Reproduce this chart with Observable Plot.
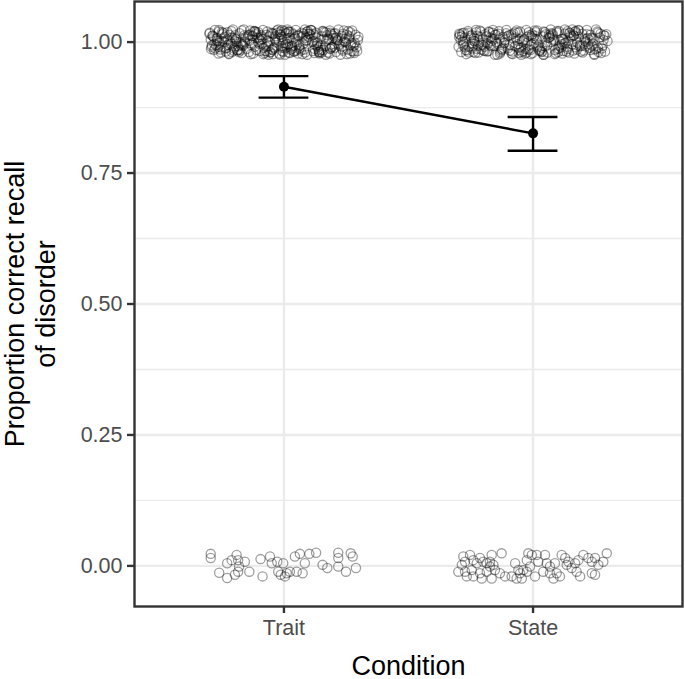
<!DOCTYPE html>
<html><head><meta charset="utf-8">
<script src="https://cdn.jsdelivr.net/npm/d3@7"></script>
<script src="https://cdn.jsdelivr.net/npm/@observablehq/plot@0.6"></script>
<style>html,body{margin:0;padding:0;background:#fff}svg{display:block}</style>
</head><body><div id="chart"></div>
<script>
// ---- data ----
const conditions = ["Trait", "State"];
const means = [0.9147, 0.8258];
const errLow = [0.894, 0.7925];
const errHigh = [0.935, 0.857];
const yTicks = [0, 0.25, 0.5, 0.75, 1];
const yMinorTicks = [0.125, 0.375, 0.625, 0.875];
const xTitle = "Condition";
const yTitle = ["Proportion correct recall", "of disorder"];

// jittered raw responses: [x jitter, y jitter] in thousandths (value 1 clusters)
const traitOnes = [
[-287,12],[143,-19],[-35,4],[258,21],[-164,-7],[78,16],[-221,-22],[9,-3],[196,8],[-112,19],[-256,-14],[117,2],[-69,-18],[231,-9],[47,23],[-193,6],[168,-24],[-138,14],[284,-1],[-8,-11],
[-272,-6],[93,20],[-46,-15],[213,3],[-178,17],[24,-21],[151,11],[-239,0],[272,-17],[-101,9],[61,-8],[-205,24],[186,-13],[-17,15],[-127,-2],[247,7],[-83,-23],[129,18],[-294,5],[3,-12],
[-249,19],[52,-5],[-153,10],[177,-20],[-28,22],[291,-10],[-216,1],[106,13],[-62,-24],[238,16],[-117,-9],[14,7],[-186,-16],[158,21],[-279,-3],[81,-14],[-94,3],[219,24],[-3,-19],[135,-1],
[-230,-11],[176,6],[-52,18],[265,-22],[-143,13],[33,-7],[-261,23],[203,-4],[-76,-17],[99,10],[-197,2],[124,-13],[-14,20],[279,-18],[-107,8],[58,14],[-170,-21],[243,0],[-291,-9],[12,17],
[-266,2],[68,-16],[-121,21],[221,-6],[-39,-12],[161,19],[-208,9],[4,-24],[253,14],[-88,-3],[111,22],[-181,-19],[38,6],[-248,15],[192,-10],[-59,11],[141,-20],[-156,-1],[297,4],[-23,24],
[-233,-18],[87,8],[-11,-8],[206,17],[-133,-23],[49,1],[-283,10],[149,-15],[-67,20],[268,-5],[-196,13],[19,-20],[-98,5],[233,-13],[-169,22],[121,-4],[-43,16],[183,-22],[-253,-10],[76,11],
[-298,18],[133,-2],[-78,-21],[198,12],[-149,-13],[21,20],[-224,-5],[261,7],[-6,-17],[107,23],[-183,-8],[64,-11],[-114,15],[171,3],[-263,-22],[44,9],[-31,-1],[287,14],[-203,-16],[93,-24],
[-241,7],[209,-19],[-92,13],[28,-14],[-161,24],[147,-7],[-276,-12],[71,18],[-21,2],[252,-23],[-128,11],[181,5],[-56,-20],[103,16],[-213,-3],[1,21],[-187,-15],[277,-8],[-104,0],[39,-18],
[-258,-1],[119,15],[-71,-9],[241,22],[-137,3],[56,-22],[-227,19],[186,-12],[-9,10],[294,-17],[-173,-6],[84,24],[-48,-14],[158,6],[-286,12],[16,-4],[-118,20],[227,-24],[-199,9],[137,-10],
[-219,14],[42,-18],[-167,-4],[262,11],[-84,23],[138,-14],[-247,1],[7,17],[-124,-22],[194,-9],[-36,7],[96,21],[-293,-13],[216,4],[-62,-7],[169,19],[-209,-19],[59,12],[-3,-2],[282,-21],
[-277,23],[166,-8],[-13,14],[74,-23],[-146,6],[236,-16],[-99,-3],[29,19],[-234,-12],[127,9],[-54,-19],[201,16],[-189,0],[11,-10],[-268,8],[274,22],[-111,-15],[89,3],[-27,18],[152,-20],
[-252,-20],[94,4],[-40,-10],[187,18],[-176,-16],[54,12],[-211,21],[249,-1],[-89,10],[143,-22],[-8,23],[-131,-5],[207,7],[-299,16],[34,-12],[-65,2],[116,-17],[-158,13],[283,-6],[18,20],
[-238,10],[61,-13],[-103,19],[224,-3],[-19,-22],[173,13],[-264,-9],[113,0],[-47,17],[256,-14],[-192,5],[6,-6],[-136,22],[141,-18],[-81,-11],[211,9],[-221,-23],[37,15],[-157,1],[299,10],
[-281,-15],[154,21],[-58,0],[85,-20],[-126,12],[243,2],[-201,-12],[22,8],[-16,-24],[191,15],[-243,18],[131,-7],[-97,-17],[266,19],[-172,-2],[47,-16],[-33,11],[204,-11],[-269,3],[109,23],
[-226,5],[77,-3],[-141,-19],[184,22],[-71,14],[31,-9],[-289,-6],[232,12],[-116,21],[159,-15],[-5,3],[-195,-8],[99,16],[-44,-23],[271,-2],[-261,20],[122,-21],[-86,6],[14,24],[-180,-14]
];
const stateOnes = [
[-274,9],[121,-17],[-52,20],[236,-6],[-187,3],[64,14],[-232,-21],[18,-9],[182,23],[-116,-2],[-296,16],[99,-13],[-79,7],[263,-19],[39,11],[-153,-24],[212,1],[-11,-15],[146,18],[-207,-5],
[-246,-12],[83,5],[-26,-20],[198,16],[-168,-8],[7,22],[-281,1],[161,-16],[-97,13],[283,4],[-133,-22],[48,19],[-61,-4],[227,-11],[-213,10],[131,-1],[-4,15],[-184,-18],[253,24],[107,-7],
[-259,17],[29,-14],[-144,-3],[171,21],[-69,9],[246,-23],[-223,12],[113,-10],[-38,3],[294,15],[-199,-16],[71,0],[-107,23],[188,-8],[-288,-19],[13,6],[-162,18],[139,-13],[-47,-24],[219,8],
[-237,2],[151,13],[-83,-18],[57,-6],[-178,20],[276,-12],[-7,11],[-256,-9],[96,21],[-124,-14],[209,6],[-31,-22],[174,17],[-216,-1],[36,-19],[-297,10],[128,24],[-58,-11],[241,-3],[-149,14],
[-268,-23],[68,11],[-113,4],[231,-15],[-17,19],[157,-4],[-194,-17],[288,12],[-72,-8],[16,22],[-236,7],[199,-20],[-139,16],[104,-12],[-43,1],[261,18],[-281,-6],[43,-24],[-171,9],[123,3],
[-229,19],[91,-21],[-1,8],[178,-1],[-126,-13],[258,20],[-203,5],[27,-17],[-88,14],[141,2],[-273,-10],[216,23],[-54,-15],[73,17],[-158,-7],[289,-18],[-24,10],[-246,13],[166,-22],[114,6],
[-291,4],[137,-9],[-66,22],[204,-16],[-147,0],[52,15],[-219,-20],[268,9],[-14,-12],[98,18],[-183,-3],[246,-24],[-102,11],[23,-6],[-261,21],[176,-14],[-36,5],[-131,-19],[71,24],[-243,-8],
[-252,12],[188,-5],[-93,-16],[43,20],[-164,7],[117,-22],[-284,17],[3,-2],[231,14],[-121,-11],[82,3],[-27,23],[-208,-14],[155,10],[-57,-21],[279,-7],[-176,19],[34,-18],[-234,1],[128,16],
[-265,-16],[62,8],[-137,21],[221,-4],[-9,-23],[163,12],[-196,-9],[101,-19],[-79,16],[299,2],[-226,-13],[12,19],[-116,-1],[183,22],[-48,-10],[242,7],[-294,14],[88,-15],[-159,5],[144,-20],
[-214,22],[36,-11],[-172,-6],[271,16],[-63,3],[134,-18],[-249,9],[-2,-21],[211,-8],[-108,17],[78,13],[-39,-17],[-278,-3],[169,20],[-143,-24],[54,0],[253,-13],[-188,11],[119,6],[-19,-14],
[-243,-2],[104,21],[-31,-13],[192,-18],[-153,14],[16,4],[-271,-15],[236,8],[-86,-22],[147,17],[-201,-6],[59,-20],[-121,10],[284,13],[-6,-4],[-229,23],[172,-10],[-61,18],[87,-23],[-166,2],
[-286,11],[126,-3],[-46,-19],[216,15],[-134,7],[27,-16],[-209,20],[261,-11],[-94,-5],[158,24],[-257,-20],[66,9],[-14,13],[196,-7],[-179,-17],[109,1],[-72,19],[-299,-9],[41,-24],[228,4],
[-221,-7],[79,16],[-161,23],[249,-14],[-23,-1],[184,10],[-239,-19],[7,12],[-101,-12],[139,21],[-53,6],[273,-21],[-191,15],[48,-8],[-128,-16],[206,3],[-278,18],[116,-4],[-82,-23],[163,13]
];
// value 0 clusters: [x jitter, y] in thousandths
const traitZeros = [
[-294,23],[-294,15],[-228,5],[-210,11],[-190,21],[-184,11],[-180,-1],[-184,-11],[-157,8],[-139,-11],
[-260,-13],[-228,-23],[-197,-17],[-94,13],[-56,18],[-49,5],[-27,8],[-3,5],[-86,-20],[-23,-11],
[-13,-17],[11,-14],[4,-20],[24,-11],[44,18],[64,23],[51,-11],[75,-14],[84,5],[102,23],
[129,25],[155,2],[174,-4],[218,25],[218,15],[218,-1],[249,-11],[268,24],[276,18],[289,-4]
];
const stateZeros = [
[-280,18],[-253,21],[-273,8],[-286,2],[-240,11],[-226,5],[-213,15],[-200,8],[-186,5],[-173,8],
[-166,21],[-126,24],[-159,2],[-173,-1],[-300,-11],[-273,-11],[-246,-8],[-266,-20],[-240,-20],[-213,-14],
[-186,-11],[-153,-8],[-133,-14],[-206,-24],[-166,-24],[-112,-20],[-86,-20],[-72,5],[-59,-8],[-52,-14],
[-39,-8],[-45,-24],[-66,-24],[-25,-11],[-19,24],[-5,21],[15,21],[21,8],[-25,11],[-12,-1],
[8,-20],[48,21],[55,5],[68,-1],[88,5],[41,-11],[68,-14],[95,-14],[108,-20],[82,-24],
[115,21],[129,15],[142,8],[135,2],[155,-4],[169,5],[175,-11],[189,-20],[202,21],[222,15],
[236,8],[249,15],[262,2],[282,8],[296,24],[236,-14],[249,-17],[182,11]
];

// ---- build tables ----
const points = [];
[[traitOnes, traitZeros], [stateOnes, stateZeros]].forEach(([ones, zeros], i) => {
  ones.forEach(([dx, dy]) => points.push({x: i + 1 + dx / 1000, y: 1 + dy / 1000}));
  zeros.forEach(([dx, dy]) => points.push({x: i + 1 + dx / 1000, y: dy / 1000}));
});
const summary = conditions.map((c, i) => ({x: i + 1, mean: means[i], lo: errLow[i], hi: errHigh[i]}));
const capHalf = 0.1;

const font = "'Liberation Sans', Arial, Helvetica, sans-serif";
const chart = Plot.plot({
  width: 685, height: 679,
  marginLeft: 134, marginRight: 3, marginTop: 1, marginBottom: 73,
  style: {fontFamily: font, background: "#ffffff", overflow: "visible"},
  x: {type: "linear", domain: [0.4, 2.6], axis: null},
  y: {type: "linear", domain: [-0.0775, 1.0775], axis: null},
  marks: [
    Plot.gridY(yMinorTicks, {stroke: "#ebebeb", strokeOpacity: 1, strokeWidth: 1.3}),
    Plot.gridY(yTicks, {stroke: "#ebebeb", strokeOpacity: 1, strokeWidth: 2.4}),
    Plot.gridX([1, 2], {stroke: "#ebebeb", strokeOpacity: 1, strokeWidth: 2.4}),
    Plot.dot(points, {x: "x", y: "y", r: 4.6, fill: "none", stroke: "#000", strokeOpacity: 0.38, strokeWidth: 1.3}),
    Plot.line(summary, {x: "x", y: "mean", stroke: "#000", strokeWidth: 2.4}),
    Plot.ruleX(summary, {x: "x", y1: "lo", y2: "hi", stroke: "#000", strokeWidth: 2.4}),
    Plot.ruleY(summary, {x1: d => d.x - capHalf, x2: d => d.x + capHalf, y: "lo", stroke: "#000", strokeWidth: 2.4}),
    Plot.ruleY(summary, {x1: d => d.x - capHalf, x2: d => d.x + capHalf, y: "hi", stroke: "#000", strokeWidth: 2.4}),
    Plot.dot(summary, {x: "x", y: "mean", r: 5, fill: "#000", stroke: "none"}),
    Plot.frame({stroke: "#333333", strokeWidth: 2.4}),
    Plot.axisY(yTicks, {anchor: "left", tickSize: 7, tickPadding: 5, tickFormat: d3.format(".2f"),
      fontSize: 21.5, stroke: "#333333", strokeWidth: 2.4, fill: "#4d4d4d", label: null}),
    Plot.axisX([1, 2], {anchor: "bottom", tickSize: 7, tickPadding: 6, tickFormat: d => conditions[d - 1],
      fontSize: 21.5, stroke: "#333333", strokeWidth: 2.4, fill: "#4d4d4d", label: null}),
    Plot.text([xTitle], {text: d => d, frameAnchor: "bottom", dy: 68, lineAnchor: "bottom",
      fontSize: 27, fill: "#000"}),
    Plot.text([yTitle[0]], {text: d => d, frameAnchor: "left", dx: -111, rotate: -90,
      lineAnchor: "bottom", textAnchor: "middle", fontSize: 27, fill: "#000"}),
    Plot.text([yTitle[1]], {text: d => d, frameAnchor: "left", dx: -80, rotate: -90,
      lineAnchor: "bottom", textAnchor: "middle", fontSize: 27, fill: "#000"})
  ]
});
document.getElementById("chart").appendChild(chart);
</script>
</body></html>
